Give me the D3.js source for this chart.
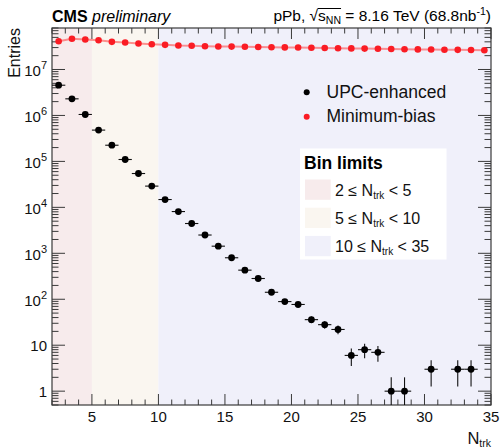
<!DOCTYPE html>
<html>
<head>
<meta charset="utf-8">
<script src="https://cdn.jsdelivr.net/npm/d3@7"></script>
<style>
html,body{margin:0;padding:0;background:#fff;}
svg{display:block;font-family:"Liberation Sans",Arial,Helvetica,sans-serif;}
</style>
</head>
<body>
<svg id="chart" width="501" height="448"></svg>
<script>
// ---- data ----
const binCenters = [2.5,3.5,4.5,5.5,6.5,7.5,8.5,9.5,10.5,11.5,12.5,13.5,14.5,15.5,16.5,17.5,18.5,19.5,20.5,21.5,22.5,23.5,24.5,25.5,26.5,27.5,28.5,29.5,30.5,31.5,32.5,33.5,34.5];
const upcEnhanced = [4.55e6,2.3e6,1.05e6,4.8e5,2.25e5,1.1e5,5.45e4,2.9e4,1.48e4,8.1e3,4.45e3,2.5e3,1430,800,430,283,142,89,77,36,28,22,6,8,7,1,1,0,3,0,3,3,0];
const minimumBias = [4.13e7,4.66e7,4.5e7,4.34e7,4.0e7,3.87e7,3.68e7,3.55e7,3.44e7,3.33e7,3.28e7,3.21e7,3.17e7,3.15e7,3.12e7,3.09e7,3.06e7,3.03e7,3.0e7,2.97e7,2.94e7,2.91e7,2.88e7,2.85e7,2.82e7,2.79e7,2.76e7,2.74e7,2.72e7,2.70e7,2.68e7,2.66e7,2.62e7];
const binLimits = [[2,5],[5,10],[10,35]];
const binLabels = [["2 ≤ N","trk"," < 5"],["5 ≤ N","trk"," < 10"],["10 ≤ N","trk"," < 35"]];
const binColors = ["#f7ebec","#faf6f0","#f0f0fa"];
const xTickLabels = [5,10,15,20,25,30,35];
const yTickLabels = [1,10,1e2,1e3,1e4,1e5,1e6,1e7];
const seriesNames = ["UPC-enhanced","Minimum-bias"];

// ---- layout ----
const svg = d3.select("#chart");
const L=52,R=491,T=28,B=405;
const x = d3.scaleLinear().domain([2,35]).range([L,R]);
const y = d3.scaleLog().domain([0.5,8e7]).range([B,T]);
const axisCol = "#3a3a3a";

svg.append("clipPath").attr("id","clip").append("rect")
  .attr("x",L).attr("y",T).attr("width",R-L).attr("height",B-T);

// backgrounds
svg.selectAll("rect.bg").data(binLimits).enter().append("rect")
  .attr("x",d=>x(d[0])).attr("width",d=>x(d[1])-x(d[0]))
  .attr("y",T).attr("height",B-T)
  .attr("fill",(d,i)=>binColors[i]);

// ticks
const g = svg.append("g").attr("stroke",axisCol).attr("stroke-width",1);
const xMinor = d3.range(2,36,1);
xMinor.forEach(v=>{
  const len = (v%5===0)?11:5.5;
  const px = x(v);
  g.append("line").attr("x1",px).attr("x2",px).attr("y1",B).attr("y2",B-len);
  g.append("line").attr("x1",px).attr("x2",px).attr("y1",T).attr("y2",T+len);
});
const yMinor=[];
for(let e=-1;e<=7;e++){ for(let m=1;m<=9;m++){ const v=m*Math.pow(10,e); if(v>=0.5 && v<=8e7) yMinor.push([v,m===1]); } }
yMinor.forEach(([v,maj])=>{
  const len = maj?13:6.5;
  const py = y(v);
  g.append("line").attr("x1",L).attr("x2",L+len).attr("y1",py).attr("y2",py);
  g.append("line").attr("x1",R).attr("x2",R-len).attr("y1",py).attr("y2",py);
});

// frame
svg.append("rect").attr("x",L).attr("y",T).attr("width",R-L).attr("height",B-T)
  .attr("fill","none").attr("stroke",axisCol).attr("stroke-width",1.2);

// tick labels
svg.selectAll("text.xt").data(xTickLabels).enter().append("text")
  .attr("x",d=>x(d)).attr("y",422).attr("text-anchor","middle")
  .attr("font-size",15).attr("fill","#111").text(d=>d);
yTickLabels.forEach(v=>{
  const e = Math.round(Math.log10(v));
  const t = svg.append("text").attr("x",47).attr("y",y(v)+ (e>=2?7:5.5))
    .attr("text-anchor","end").attr("font-size",15).attr("fill","#111");
  if(e<2){ t.text(v); }
  else { t.append("tspan").text("10"); t.append("tspan").attr("dy",-7).attr("font-size",11).text(e); }
});

// axis titles
svg.append("text").attr("transform",`translate(19.5,${T}) rotate(-90)`)
  .attr("text-anchor","end").attr("font-size",16).attr("fill","#111").text("Entries");
const xt = svg.append("text").attr("x",491).attr("y",444).attr("text-anchor","end")
  .attr("font-size",16.5).attr("fill","#111");
xt.append("tspan").text("N");
xt.append("tspan").attr("dy",3).attr("font-size",10.5).text("trk");

// header
const hl = svg.append("text").attr("x",52).attr("y",22).attr("font-size",16).attr("fill","#000");
hl.append("tspan").attr("font-weight","bold").text("CMS");
hl.append("tspan").attr("font-style","italic").text(" preliminary");
const hr = svg.append("text").attr("x",491).attr("y",21).attr("text-anchor","end")
  .attr("font-size",15.5).attr("fill","#000");
hr.append("tspan").text("pPb, √s");
hr.append("tspan").attr("dy",3).attr("font-size",10.5).text("NN");
hr.append("tspan").attr("dy",-3).text(" = 8.16 TeV (68.8nb");
hr.append("tspan").attr("dy",-6).attr("font-size",10.5).text("-1");
hr.append("tspan").attr("dy",6).text(")");
try{
  const n = hr.node();
  const r = n.getExtentOfChar(5), s = n.getExtentOfChar(8);
  svg.append("line").attr("x1",r.x+r.width-0.5).attr("x2",s.x+s.width)
    .attr("y1",r.y+1.5).attr("y2",r.y+1.5).attr("stroke","#000").attr("stroke-width",1);
}catch(e){}

// data
const plot = svg.append("g").attr("clip-path","url(#clip)");
const mb = binCenters.map((c,i)=>({x:c,v:minimumBias[i]}));
plot.append("path").datum(mb)
  .attr("d",d3.line().x(d=>x(d.x)).y(d=>y(d.v)))
  .attr("fill","none").attr("stroke","rgba(255,60,60,0.55)").attr("stroke-width",2);
plot.selectAll("circle.mb").data(mb).enter().append("circle")
  .attr("cx",d=>x(d.x)).attr("cy",d=>y(d.v)).attr("r",3.3).attr("fill","#fa1c24");

const upc = binCenters.map((c,i)=>({x:c,v:upcEnhanced[i]})).filter(d=>d.v>0);
const eb = plot.append("g").attr("stroke","#111").attr("stroke-width",1.1);
upc.forEach(d=>{
  const err = Math.sqrt(d.v);
  eb.append("line").attr("x1",x(d.x-0.5)).attr("x2",x(d.x+0.5)).attr("y1",y(d.v)).attr("y2",y(d.v));
  const lo = d.v-err>0 ? y(d.v-err) : B+10;
  eb.append("line").attr("x1",x(d.x)).attr("x2",x(d.x)).attr("y1",y(d.v+err)).attr("y2",lo);
});
plot.selectAll("circle.upc").data(upc).enter().append("circle")
  .attr("cx",d=>x(d.x)).attr("cy",d=>y(d.v)).attr("r",3.4).attr("fill","#000");

// legend 1
const legCols = ["#000","#fa1c24"];
seriesNames.forEach((nm,i)=>{
  const cy = 92.3 + i*24.4;
  svg.append("circle").attr("cx",306.7).attr("cy",cy).attr("r",3).attr("fill",legCols[i]);
  svg.append("text").attr("x",326.5).attr("y",cy+5.5).attr("font-size",17.5).attr("fill","#111").text(nm);
});

// legend 2
svg.append("rect").attr("x",300).attr("y",148.5).attr("width",146.5).attr("height",111).attr("fill","#fff");
svg.append("text").attr("x",304).attr("y",168.5).attr("font-size",17.5).attr("font-weight","bold")
  .attr("fill","#000").text("Bin limits");
binLabels.forEach((lb,i)=>{
  const top = 179.5 + i*28.2;
  svg.append("rect").attr("x",305).attr("y",top).attr("width",25.7).attr("height",20.3).attr("fill",binColors[i]);
  const t = svg.append("text").attr("x",335).attr("y",top+16.5).attr("font-size",16).attr("fill","#111");
  t.append("tspan").text(lb[0]);
  t.append("tspan").attr("dy",3).attr("font-size",10).text(lb[1]);
  t.append("tspan").attr("dy",-3).text(lb[2]);
});
</script>
</body>
</html>
